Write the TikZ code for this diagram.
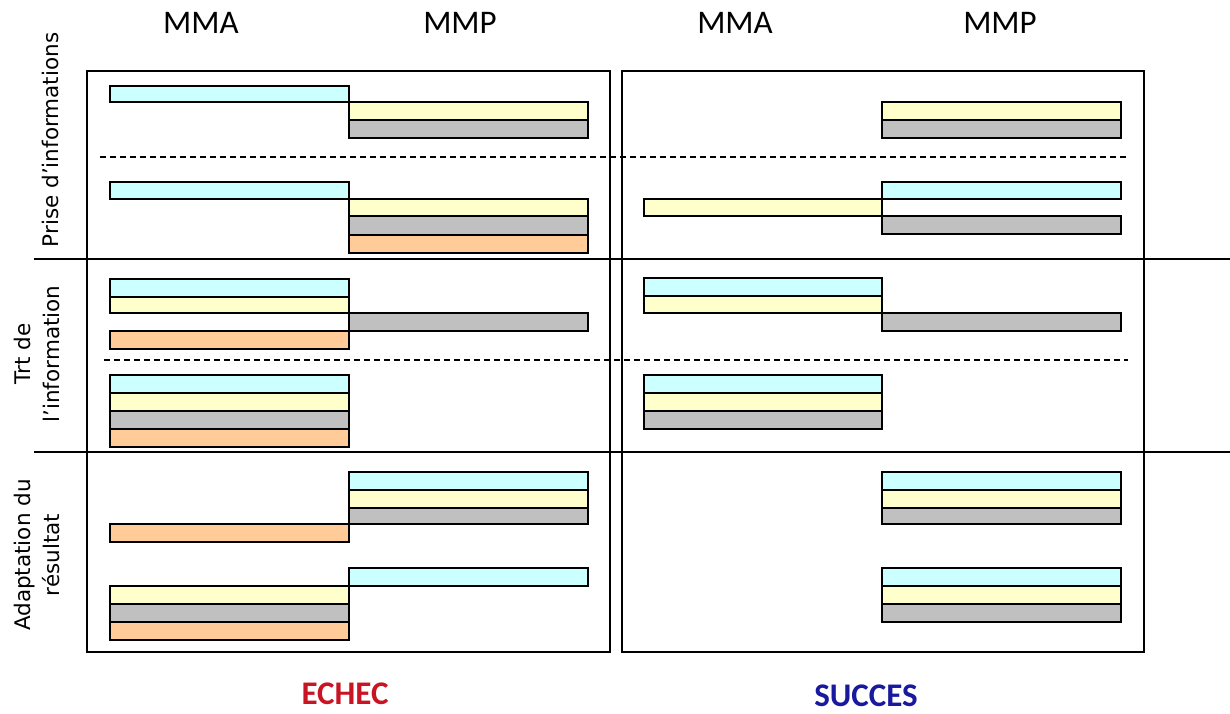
\documentclass[tikz,border=0pt]{standalone}
\usepackage{fontspec}
\setmainfont{Carlito}
\newfontfamily\labelfont{DejaVu Sans}
\definecolor{barblue}{HTML}{CCFFFF}
\definecolor{baryellow}{HTML}{FFFFCC}
\definecolor{bargrey}{HTML}{C0C0C0}
\definecolor{barorange}{HTML}{FFCC99}
\definecolor{echecred}{RGB}{200,20,35}
\definecolor{succesblue}{RGB}{25,25,160}
\begin{document}
\begin{tikzpicture}[x=1pt, y=-1pt,
    bar/.style={draw=black, line width=1.3pt},
    colhead/.style={font=\fontsize{33}{38}\selectfont},
    rowhead/.style={rotate=90, align=center, font=\labelfont\fontsize{21.5}{29}\selectfont},
    verdict/.style={font=\fontsize{33}{38}\selectfont\bfseries}]
        \useasboundingbox (0,0) rectangle (1230,713);

        % column and row titles
        \node[colhead] (mmaE) at (201,23) {MMA};
        \node[colhead] (mmpE) at (460,23) {MMP};
        \node[colhead] (mmaS) at (735,23) {MMA};
        \node[colhead] (mmpS) at (1000,23) {MMP};
        \node[rowhead] (prise) at (50,140) {Prise d’informations};
        \node[rowhead] (trt) at (37,354) {Trt de\\l’information};
        \node[rowhead] (adapt) at (37,555) {Adaptation du\\résultat};

        % ECHEC panel
        \filldraw[bar, fill=barblue] (110,86) rectangle (349,102);
        \filldraw[bar, fill=baryellow] (349,102) rectangle (588,120);
        \filldraw[bar, fill=bargrey] (349,120) rectangle (588,138);

        \filldraw[bar, fill=barblue] (110,182) rectangle (349,199);
        \filldraw[bar, fill=baryellow] (349,199) rectangle (588,216);
        \filldraw[bar, fill=bargrey] (349,216) rectangle (588,235);
        \filldraw[bar, fill=barorange] (349,235) rectangle (588,253);

        \filldraw[bar, fill=barblue] (110,279) rectangle (349,297);
        \filldraw[bar, fill=baryellow] (110,297) rectangle (349,313);
        \filldraw[bar, fill=bargrey] (349,313) rectangle (588,331);
        \filldraw[bar, fill=barorange] (110,331) rectangle (349,349);

        \filldraw[bar, fill=barblue] (110,375) rectangle (349,393);
        \filldraw[bar, fill=baryellow] (110,393) rectangle (349,411);
        \filldraw[bar, fill=bargrey] (110,411) rectangle (349,429);
        \filldraw[bar, fill=barorange] (110,429) rectangle (349,447);

        \filldraw[bar, fill=barblue] (349,472) rectangle (588,490);
        \filldraw[bar, fill=baryellow] (349,490) rectangle (588,508);
        \filldraw[bar, fill=bargrey] (349,508) rectangle (588,524);
        \filldraw[bar, fill=barorange] (110,524) rectangle (349,542);

        \filldraw[bar, fill=barblue] (349,568) rectangle (588,586);
        \filldraw[bar, fill=baryellow] (110,586) rectangle (349,604);
        \filldraw[bar, fill=bargrey] (110,604) rectangle (349,622);
        \filldraw[bar, fill=barorange] (110,622) rectangle (349,640);

        % SUCCES panel
        \filldraw[bar, fill=baryellow] (882,102) rectangle (1121,120);
        \filldraw[bar, fill=bargrey] (882,120) rectangle (1121,138);

        \filldraw[bar, fill=barblue] (882,182) rectangle (1121,199);
        \filldraw[bar, fill=baryellow] (644,199) rectangle (882,216);
        \filldraw[bar, fill=bargrey] (882,216) rectangle (1121,234);

        \filldraw[bar, fill=barblue] (644,278) rectangle (882,296);
        \filldraw[bar, fill=baryellow] (644,296) rectangle (882,313);
        \filldraw[bar, fill=bargrey] (882,313) rectangle (1121,331);

        \filldraw[bar, fill=barblue] (644,375) rectangle (882,393);
        \filldraw[bar, fill=baryellow] (644,393) rectangle (882,411);
        \filldraw[bar, fill=bargrey] (644,411) rectangle (882,429);

        \filldraw[bar, fill=barblue] (882,472) rectangle (1121,490);
        \filldraw[bar, fill=baryellow] (882,490) rectangle (1121,508);
        \filldraw[bar, fill=bargrey] (882,508) rectangle (1121,524);

        \filldraw[bar, fill=barblue] (882,568) rectangle (1121,586);
        \filldraw[bar, fill=baryellow] (882,586) rectangle (1121,604);
        \filldraw[bar, fill=bargrey] (882,604) rectangle (1121,622);

        % frames, separators
        \draw[dashed, dash pattern=on 6pt off 4pt, line width=1.2pt] (100,157) -- (1128,157);
        \draw[dashed, dash pattern=on 6pt off 4pt, line width=1.2pt] (104,360) -- (1128,360);
        \draw[line width=1.3pt] (34,259) -- (1230,259);
        \draw[line width=1.3pt] (34,452) -- (1230,452);
        \draw[black, line width=1.3pt] (87,71) rectangle (610,652);
        \draw[black, line width=1.3pt] (622,71) rectangle (1144,652);

        \node[verdict, text=echecred] (echec) at (345,694) {ECHEC};
        \node[verdict, text=succesblue] (succes) at (866,696) {SUCCES};
    \end{tikzpicture}
\end{document}
